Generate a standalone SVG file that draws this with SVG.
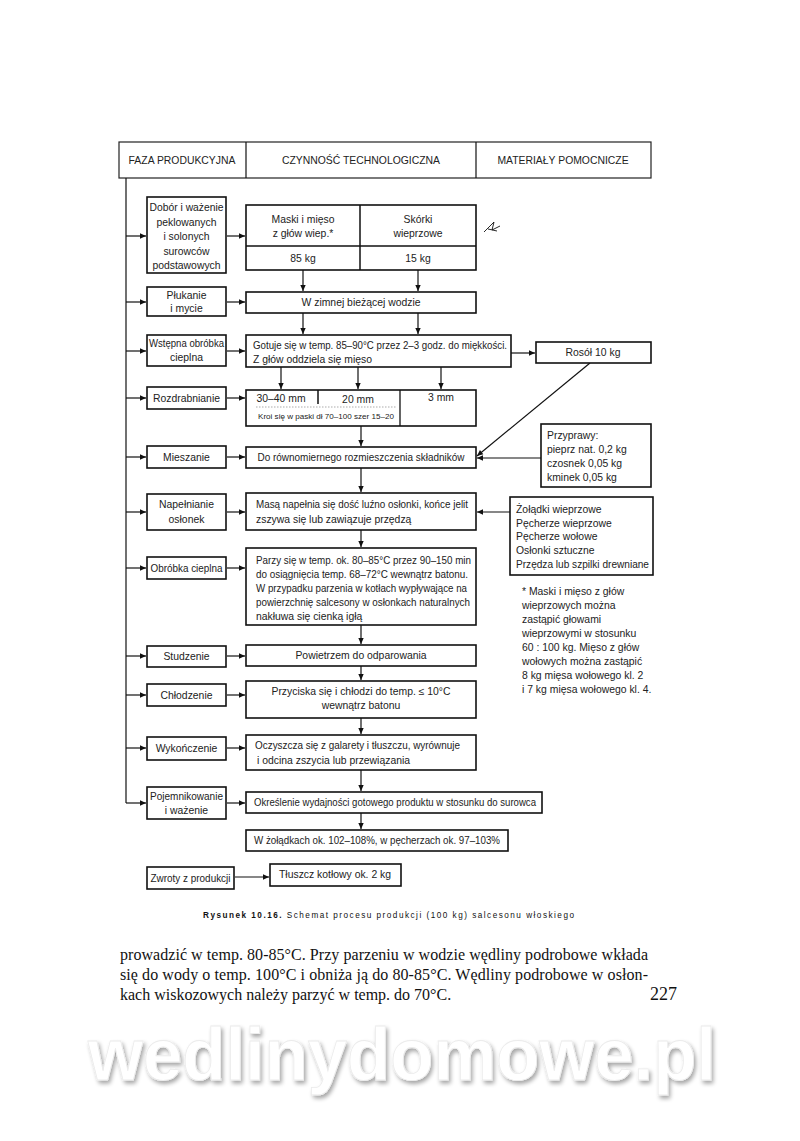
<svg xmlns="http://www.w3.org/2000/svg" width="800" height="1141" viewBox="0 0 800 1141">
<style>
.bg{fill:#fff}
.box{fill:#fff;stroke:#111;stroke-width:1.6}
.hd{fill:#fff;stroke:#222;stroke-width:1.2}
.t{font-family:"Liberation Sans",Arial,sans-serif;font-size:10.4px;fill:#222}
.c{text-anchor:middle}
.s{font-size:7px}
.ln{stroke:#111;stroke-width:1.2;fill:none}
.ar{stroke:#111;stroke-width:1.2;fill:none;marker-end:url(#ah)}
.cap{font-family:"Liberation Sans",Arial,sans-serif;font-size:8.2px;fill:#111}
.para{font-family:"Liberation Serif","Times New Roman",serif;font-size:16px;fill:#111}
.wm{font-family:"Liberation Sans",Arial,sans-serif;font-weight:bold;font-size:74px}
</style>
<defs>
<marker id="ah" viewBox="0 0 10 10" refX="10" refY="5" markerWidth="8" markerHeight="6" orient="auto" markerUnits="userSpaceOnUse">
<path d="M0,0.5 L10,5 L0,9.5 z" fill="#111"/>
</marker>
<filter id="sh" x="-5%" y="-20%" width="110%" height="150%">
<feGaussianBlur in="SourceAlpha" stdDeviation="2.2"/>
<feOffset dx="2" dy="3" result="b"/>
<feComponentTransfer><feFuncA type="linear" slope="0.35"/></feComponentTransfer>
<feMerge><feMergeNode/><feMergeNode in="SourceGraphic"/></feMerge>
</filter>
</defs>
<rect class="bg" x="0" y="0" width="800" height="1141"/>

<g id="header">
<rect class="hd" x="119" y="142" width="532" height="36"/>
<line class="ln" x1="246" y1="142" x2="246" y2="178"/>
<line class="ln" x1="476" y1="142" x2="476" y2="178"/>
<text class="t c" x="182" y="164">FAZA PRODUKCYJNA</text>
<text class="t c" x="361" y="164">CZYNNOŚĆ TECHNOLOGICZNA</text>
<text class="t c" x="563" y="164">MATERIAŁY POMOCNICZE</text>
</g>

<g id="connectors">
<line class="ln" x1="126" y1="178" x2="126" y2="803"/>
<line class="ar" x1="126" y1="236" x2="146" y2="236"/>
<line class="ar" x1="126" y1="302" x2="146" y2="302"/>
<line class="ar" x1="126" y1="351" x2="146" y2="351"/>
<line class="ar" x1="126" y1="398" x2="146" y2="398"/>
<line class="ar" x1="126" y1="457" x2="146" y2="457"/>
<line class="ar" x1="126" y1="512" x2="146" y2="512"/>
<line class="ar" x1="126" y1="568" x2="146" y2="568"/>
<line class="ar" x1="126" y1="656" x2="146" y2="656"/>
<line class="ar" x1="126" y1="695" x2="146" y2="695"/>
<line class="ar" x1="126" y1="748" x2="146" y2="748"/>
<line class="ar" x1="126" y1="803" x2="146" y2="803"/>
<line class="ar" x1="227" y1="236" x2="245" y2="236"/>
<line class="ar" x1="227" y1="302" x2="245" y2="302"/>
<line class="ar" x1="227" y1="351" x2="245" y2="351"/>
<line class="ar" x1="227" y1="398" x2="245" y2="398"/>
<line class="ar" x1="227" y1="457" x2="245" y2="457"/>
<line class="ar" x1="227" y1="512" x2="245" y2="512"/>
<line class="ar" x1="227" y1="568" x2="245" y2="568"/>
<line class="ar" x1="227" y1="656" x2="245" y2="656"/>
<line class="ar" x1="227" y1="695" x2="245" y2="695"/>
<line class="ar" x1="227" y1="748" x2="245" y2="748"/>
<line class="ar" x1="227" y1="803" x2="245" y2="803"/>
<line class="ar" x1="235" y1="877" x2="269" y2="877"/>
<line class="ar" x1="303" y1="270" x2="303" y2="291"/>
<line class="ar" x1="418" y1="270" x2="418" y2="291"/>
<line class="ar" x1="303" y1="313" x2="303" y2="334"/>
<line class="ar" x1="418" y1="313" x2="418" y2="334"/>
<line class="ar" x1="511" y1="353" x2="535" y2="353"/>
<line class="ar" x1="281" y1="367" x2="281" y2="389"/>
<line class="ar" x1="358" y1="367" x2="358" y2="389"/>
<line class="ar" x1="441" y1="367" x2="441" y2="389"/>
<line class="ar" x1="361" y1="426" x2="361" y2="446"/>
<line class="ar" x1="361" y1="468" x2="361" y2="492"/>
<line class="ar" x1="361" y1="530" x2="361" y2="547"/>
<line class="ar" x1="361" y1="625" x2="361" y2="644"/>
<line class="ar" x1="361" y1="666" x2="361" y2="680"/>
<line class="ar" x1="361" y1="718" x2="361" y2="734"/>
<line class="ar" x1="361" y1="770" x2="361" y2="791"/>
<line class="ar" x1="361" y1="813" x2="361" y2="829"/>
<line class="ar" x1="590" y1="363" x2="477" y2="456"/>
<line class="ar" x1="541" y1="458" x2="477" y2="458"/>
<line class="ar" x1="510" y1="512" x2="477" y2="512"/>
</g>

<g id="dobor">
<rect class="box" x="147" y="197" width="79" height="76"/>
<text class="t c" x="186.5" y="211" textLength="74" lengthAdjust="spacingAndGlyphs">Dobór i ważenie</text>
<text class="t c" x="186.5" y="225.5">peklowanych</text>
<text class="t c" x="186.5" y="240">i solonych</text>
<text class="t c" x="186.5" y="254.5">surowców</text>
<text class="t c" x="186.5" y="269">podstawowych</text>
</g>
<g id="plukanie">
<rect class="box" x="147" y="287" width="79" height="29"/>
<text class="t c" x="186.5" y="299">Płukanie</text>
<text class="t c" x="186.5" y="312">i mycie</text>
</g>
<g id="wstepna">
<rect class="box" x="147" y="335" width="79" height="31"/>
<text class="t c" x="186.5" y="347" textLength="75" lengthAdjust="spacingAndGlyphs">Wstępna obróbka</text>
<text class="t c" x="186.5" y="361">cieplna</text>
</g>
<g id="rozdrabnianie">
<rect class="box" x="147" y="387" width="79" height="22"/>
<text class="t c" x="186.5" y="402">Rozdrabnianie</text>
</g>
<g id="mieszanie">
<rect class="box" x="147" y="446" width="79" height="22"/>
<text class="t c" x="186.5" y="461">Mieszanie</text>
</g>
<g id="napelnianie">
<rect class="box" x="147" y="494" width="79" height="36"/>
<text class="t c" x="186.5" y="508">Napełnianie</text>
<text class="t c" x="186.5" y="523">osłonek</text>
</g>
<g id="obrobka">
<rect class="box" x="147" y="557" width="79" height="22"/>
<text class="t c" x="186.5" y="572" textLength="72" lengthAdjust="spacingAndGlyphs">Obróbka cieplna</text>
</g>
<g id="studzenie">
<rect class="box" x="147" y="646" width="79" height="21"/>
<text class="t c" x="186.5" y="660">Studzenie</text>
</g>
<g id="chlodzenie">
<rect class="box" x="147" y="684" width="79" height="22"/>
<text class="t c" x="186.5" y="699">Chłodzenie</text>
</g>
<g id="wykonczenie">
<rect class="box" x="147" y="737" width="79" height="23"/>
<text class="t c" x="186.5" y="752">Wykończenie</text>
</g>
<g id="pojemnikowanie">
<rect class="box" x="147" y="787" width="79" height="32"/>
<text class="t c" x="186.5" y="800" textLength="73" lengthAdjust="spacingAndGlyphs">Pojemnikowanie</text>
<text class="t c" x="186.5" y="814">i ważenie</text>
</g>
<g id="zwroty">
<rect class="box" x="147" y="867" width="87" height="22"/>
<text class="t c" x="190.5" y="882" textLength="80" lengthAdjust="spacingAndGlyphs">Zwroty z produkcji</text>
</g>

<g id="surowce">
<rect class="box" x="246" y="205" width="230" height="65"/>
<line class="ln" x1="246" y1="246" x2="476" y2="246" style="stroke-width:1.5"/>
<line class="ln" x1="360" y1="205" x2="360" y2="270" style="stroke-width:1.5"/>
<text class="t c" x="303" y="223">Maski i mięso</text>
<text class="t c" x="303" y="237">z głów wiep.*</text>
<text class="t c" x="418" y="223">Skórki</text>
<text class="t c" x="418" y="237">wieprzowe</text>
<text class="t c" x="303" y="262">85 kg</text>
<text class="t c" x="418" y="262">15 kg</text>
</g>
<g id="mark">
<path d="M484,232 L494,222 L492,230 L500,226 M488,229 L497,231" class="ln" style="stroke-width:0.9"/>
</g>
<g id="zimnej">
<rect class="box" x="246" y="292" width="230" height="21"/>
<text class="t c" x="361" y="306">W zimnej bieżącej wodzie</text>
</g>
<g id="gotuje">
<rect class="box" x="246" y="335" width="265" height="32"/>
<text class="t" x="253" y="349" textLength="254" lengthAdjust="spacingAndGlyphs">Gotuje się w temp. 85–90°C przez 2–3 godz. do miękkości.</text>
<text class="t" x="253" y="363">Z głów oddziela się mięso</text>
</g>
<g id="rosol">
<rect class="box" x="536" y="342" width="115" height="21"/>
<text class="t c" x="593" y="356">Rosół 10 kg</text>
</g>
<g id="rozdr-tresc">
<rect class="box" x="246" y="390" width="230" height="36"/>
<line class="ln" x1="318" y1="390" x2="318" y2="404" style="stroke-width:1.5"/>
<line class="ln" x1="400" y1="390" x2="400" y2="426" style="stroke-width:1.3"/>
<line x1="256" y1="407" x2="397" y2="407" stroke="#888" stroke-width="0.7" stroke-dasharray="1.5,1.5"/>
<text class="t c" x="281" y="402">30–40 mm</text>
<text class="t c" x="358" y="403">20 mm</text>
<text class="t c" x="441" y="401">3 mm</text>
<text class="t c s" x="326" y="419" textLength="136" lengthAdjust="spacingAndGlyphs">Kroi się w paski dł 70–100  szer 15–20</text>
</g>
<g id="miesz-tresc">
<rect class="box" x="246" y="447" width="230" height="21"/>
<text class="t c" x="361" y="461" textLength="207" lengthAdjust="spacingAndGlyphs">Do równomiernego rozmieszczenia składników</text>
</g>
<g id="przyprawy">
<rect class="box" x="541" y="424" width="110" height="63"/>
<text class="t" x="547" y="439">Przyprawy:</text>
<text class="t" x="547" y="453">pieprz nat. 0,2 kg</text>
<text class="t" x="547" y="467">czosnek 0,05 kg</text>
<text class="t" x="547" y="481">kminek 0,05 kg</text>
</g>
<g id="masa">
<rect class="box" x="246" y="493" width="230" height="37"/>
<text class="t" x="256" y="508" textLength="212" lengthAdjust="spacingAndGlyphs">Masą napełnia się dość luźno osłonki, końce jelit</text>
<text class="t" x="256" y="523">zszywa się lub zawiązuje przędzą</text>
</g>
<g id="oslonki">
<rect class="box" x="510" y="497" width="143" height="78"/>
<text class="t" x="516" y="513">Żołądki wieprzowe</text>
<text class="t" x="516" y="527">Pęcherze wieprzowe</text>
<text class="t" x="516" y="540">Pęcherze wołowe</text>
<text class="t" x="516" y="554">Osłonki sztuczne</text>
<text class="t" x="516" y="568" textLength="133" lengthAdjust="spacingAndGlyphs">Przędza lub szpilki drewniane</text>
</g>
<g id="parzy">
<rect class="box" x="246" y="548" width="230" height="77"/>
<text class="t" x="256" y="564" textLength="215" lengthAdjust="spacingAndGlyphs">Parzy się w temp. ok. 80–85°C przez 90–150 min</text>
<text class="t" x="256" y="578" textLength="212" lengthAdjust="spacingAndGlyphs">do osiągnięcia temp. 68–72°C wewnątrz batonu.</text>
<text class="t" x="256" y="592" textLength="211" lengthAdjust="spacingAndGlyphs">W przypadku parzenia w kotłach wypływające na</text>
<text class="t" x="256" y="606" textLength="214" lengthAdjust="spacingAndGlyphs">powierzchnię salcesony w osłonkach naturalnych</text>
<text class="t" x="256" y="620">nakłuwa się cienką igłą</text>
</g>
<g id="przypis">
<text class="t" x="522" y="595">* Maski i mięso z głów</text>
<text class="t" x="522" y="609">wieprzowych można</text>
<text class="t" x="522" y="623">zastąpić głowami</text>
<text class="t" x="522" y="637">wieprzowymi w stosunku</text>
<text class="t" x="522" y="651">60 : 100 kg. Mięso z głów</text>
<text class="t" x="522" y="665">wołowych można zastąpić</text>
<text class="t" x="522" y="679">8 kg mięsa wołowego kl. 2</text>
<text class="t" x="522" y="693">i 7 kg mięsa wołowego kl. 4.</text>
</g>
<g id="powietrzem">
<rect class="box" x="246" y="645" width="230" height="21"/>
<text class="t c" x="361" y="659">Powietrzem do odparowania</text>
</g>
<g id="przyciska">
<rect class="box" x="246" y="681" width="230" height="37"/>
<text class="t c" x="361" y="695">Przyciska się i chłodzi do temp. ≤ 10°C</text>
<text class="t c" x="361" y="709">wewnątrz batonu</text>
</g>
<g id="oczyszcza">
<rect class="box" x="246" y="735" width="230" height="35"/>
<text class="t" x="255" y="749" textLength="205" lengthAdjust="spacingAndGlyphs">Oczyszcza się z galarety i tłuszczu, wyrównuje</text>
<text class="t" x="257" y="764">i odcina zszycia lub przewiązania</text>
</g>
<g id="okreslenie">
<rect class="box" x="246" y="792" width="296" height="21"/>
<text class="t" x="254" y="806" textLength="282" lengthAdjust="spacingAndGlyphs">Określenie wydajności gotowego produktu w stosunku do surowca</text>
</g>
<g id="wydajnosc">
<rect class="box" x="246" y="830" width="262" height="21"/>
<text class="t c" x="377" y="844" textLength="246" lengthAdjust="spacingAndGlyphs">W żołądkach ok. 102–108%, w pęcherzach ok. 97–103%</text>
</g>
<g id="tluszcz">
<rect class="box" x="270" y="864" width="131" height="22"/>
<text class="t" x="279" y="878">Tłuszcz kotłowy ok. 2 kg</text>
</g>

<g id="caption">
<text class="cap" x="203" y="918" textLength="371" lengthAdjust="spacing"><tspan font-weight="bold">Rysunek 10.16.</tspan> Schemat procesu produkcji (100 kg) salcesonu włoskiego</text>
</g>

<g id="tekst">
<text class="para" x="120" y="960" textLength="528" lengthAdjust="spacing">prowadzić w temp. 80-85°C.  Przy parzeniu w wodzie wędliny podrobowe wkłada</text>
<text class="para" x="120" y="980" textLength="528" lengthAdjust="spacing">się do wody o temp. 100°C i obniża ją do 80-85°C. Wędliny podrobowe w osłon-</text>
<text class="para" x="120" y="1000">kach wiskozowych należy parzyć w temp. do 70°C.</text>
<text class="para" x="650" y="1000" style="font-size:18px">227</text>
</g>

<g id="znak">
<text class="wm" x="88" y="1080" textLength="628" lengthAdjust="spacingAndGlyphs" fill="#ffffff" stroke="#ececec" stroke-width="0.8" filter="url(#sh)">wedlinydomowe.pl</text>
</g>
</svg>
